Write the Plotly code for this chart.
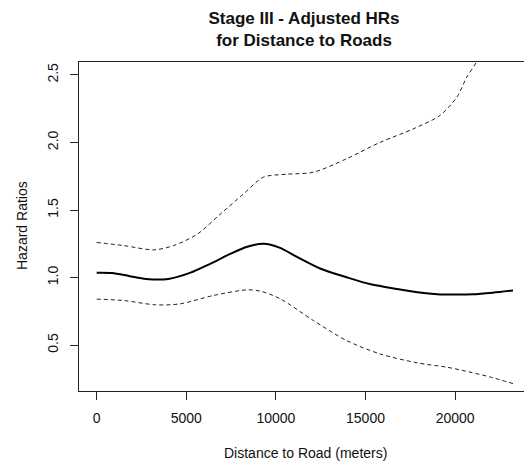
import plotly.graph_objects as go

# Distance to road (meters) and hazard ratio estimates
dist_fit = [0, 850, 1800, 2750, 4000, 5200, 6300, 7450, 8400, 9300, 10200, 11150, 12500, 13950, 15300, 16750, 18000, 19000, 20000, 21000, 22100, 23230]
hr_fit = [1.035, 1.033, 1.012, 0.99, 0.99, 1.035, 1.10, 1.175, 1.228, 1.25, 1.222, 1.155, 1.065, 1.002, 0.95, 0.916, 0.89, 0.877, 0.874, 0.876, 0.888, 0.904]

dist_upper = [0, 1500, 3200, 4300, 5600, 6900, 8200, 9300, 10600, 12100, 13950, 15800, 17650, 19150, 20100, 20650, 21170, 21700, 22400, 23230]
hr_upper = [1.26, 1.237, 1.205, 1.237, 1.32, 1.47, 1.62, 1.743, 1.765, 1.78, 1.88, 2.0, 2.10, 2.2, 2.336, 2.484, 2.59, 2.75, 3.0, 3.35]

dist_lower = [0, 1500, 3300, 4650, 6500, 8400, 9150, 10250, 12100, 13950, 15800, 17900, 19550, 20830, 22000, 23230]
hr_lower = [0.84, 0.83, 0.798, 0.805, 0.867, 0.909, 0.899, 0.842, 0.681, 0.533, 0.435, 0.368, 0.336, 0.30, 0.262, 0.215]

x_ticks = [0, 5000, 10000, 15000, 20000]
x_tick_text = ["0", "5000", "10000", "15000", "20000"]
y_ticks = [0.5, 1.0, 1.5, 2.0, 2.5]
y_tick_text = ["0.5", "1.0", "1.5", "2.0", "2.5"]

FONT = "Liberation Sans, Arial, sans-serif"
TXT = "#111111"

fig = go.Figure()
fig.add_trace(go.Scatter(x=dist_upper, y=hr_upper, mode="lines",
                         line=dict(color="#222222", width=1, dash="4px,3px", shape="spline", smoothing=0.8),
                         hoverinfo="skip", showlegend=False))
fig.add_trace(go.Scatter(x=dist_lower, y=hr_lower, mode="lines",
                         line=dict(color="#222222", width=1, dash="4px,3px", shape="spline", smoothing=0.8),
                         hoverinfo="skip", showlegend=False))
fig.add_trace(go.Scatter(x=dist_fit, y=hr_fit, mode="lines",
                         line=dict(color="#000000", width=2, shape="spline", smoothing=0.8),
                         hoverinfo="skip", showlegend=False))

fig.update_layout(
    width=524, height=466,
    margin=dict(l=79, r=0, t=62, b=75),
    paper_bgcolor="white", plot_bgcolor="white",
    font=dict(family=FONT, size=14, color=TXT),
    title=dict(text="<b>Stage III - Adjusted HRs<br>for Distance to Roads</b>",
               x=304 / 524, xanchor="center", xref="container",
               y=1 - 24 / 466, yanchor="middle",
               font=dict(family=FONT, size=17, color=TXT)),
    xaxis=dict(range=[-988, 23845], tickvals=x_ticks, ticktext=x_tick_text, ticks="outside", ticklen=8,
               tickcolor="#222222", showline=True, linecolor="#222222", linewidth=1,
               mirror=True, showgrid=False, zeroline=False, ticklabelstandoff=6,
               tickfont=dict(size=14, color=TXT)),
    yaxis=dict(range=[0.16, 2.596], tickvals=y_ticks, ticktext=y_tick_text, ticks="outside",
               ticklen=8, tickcolor="#222222", showline=True, linecolor="#222222", linewidth=1,
               mirror=False, showgrid=False, zeroline=False, tickangle=-90,
               ticklabelstandoff=6, tickfont=dict(size=14, color=TXT)),
    annotations=[
        dict(text="Distance to Road (meters)", xref="paper", yref="paper",
             x=(305 - 79) / 445, y=-(453 - 391) / 329, xanchor="center", yanchor="middle",
             showarrow=False, font=dict(family=FONT, size=14, color=TXT)),
        dict(text="Hazard Ratios", xref="paper", yref="paper",
             x=-(79 - 22) / 445, y=(391 - 226) / 329, xanchor="center", yanchor="middle",
             textangle=-90, showarrow=False, font=dict(family=FONT, size=14, color=TXT)),
    ],
)

fig.write_html("out.html")
